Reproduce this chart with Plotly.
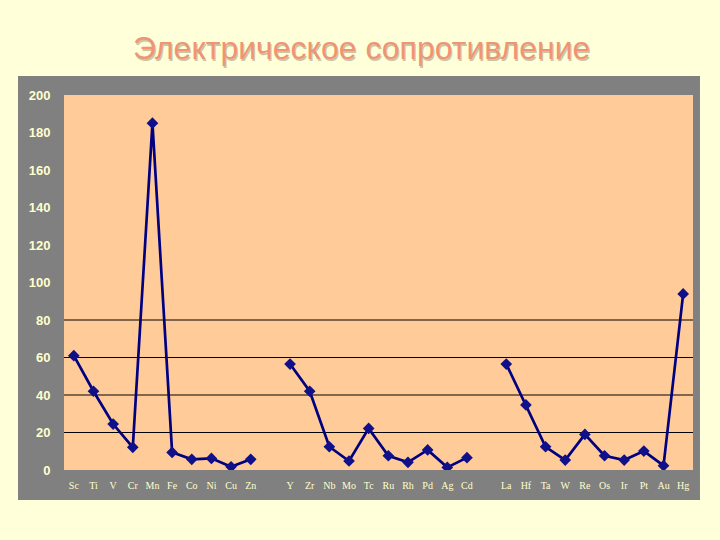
import plotly.graph_objects as go

elements = ["Sc", "Ti", "V", "Cr", "Mn", "Fe", "Co", "Ni", "Cu", "Zn", "",
            "Y", "Zr", "Nb", "Mo", "Tc", "Ru", "Rh", "Pd", "Ag", "Cd", "",
            "La", "Hf", "Ta", "W", "Re", "Os", "Ir", "Pt", "Au", "Hg"]
resistance = [61, 42, 24.5, 12.1, 185, 9.4, 5.7, 6.2, 1.7, 5.7, None,
              56.5, 42, 12.4, 4.8, 22.2, 7.6, 4.1, 10.7, 1.4, 6.6, None,
              56.5, 34.7, 12.4, 5.3, 19, 7.6, 5.3, 10.1, 2.3, 93.9]
grid_values = [20, 40, 60, 80]
y_ticks = [0, 20, 40, 60, 80, 100, 120, 140, 160, 180, 200]

x_idx = list(range(len(elements)))

fig = go.Figure()
fig.add_trace(go.Scatter(
    x=x_idx, y=resistance, mode="lines+markers",
    line=dict(color="#000080", width=2.7),
    marker=dict(symbol="diamond", size=9, color="#10108a"),
    connectgaps=False, hoverinfo="skip"))

shapes = [
    dict(type="rect", xref="paper", yref="paper", x0=-0.0731, x1=1.0111,
         y0=-0.08, y1=1.0507, fillcolor="#808080", line=dict(width=0), layer="below"),
    dict(type="rect", xref="paper", yref="paper", x0=0, x1=1, y0=0, y1=1,
         fillcolor="#FFCC99", line=dict(width=0), layer="below"),
]
for g in grid_values:
    shapes.append(dict(type="line", xref="paper", yref="y", x0=0, x1=1, y0=g, y1=g,
                       line=dict(color="#000000", width=1), layer="below"))

title = "Электрическое сопротивление"
tx = (361 - 64) / 629
ty = (470 - 48) / 375
annotations = [
    dict(text=title, xref="paper", yref="paper", x=tx + 1.5 / 629, y=ty - 1.5 / 375,
         xanchor="center", yanchor="middle", showarrow=False,
         font=dict(family="Liberation Sans, Arial", size=32, color="#C9C6A6")),
    dict(text=title, xref="paper", yref="paper", x=tx, y=ty,
         xanchor="center", yanchor="middle", showarrow=False,
         font=dict(family="Liberation Sans, Arial", size=32, color="#F09474")),
]

fig.update_layout(
    width=720, height=540,
    margin=dict(l=64, r=27, t=95, b=70),
    paper_bgcolor="#FFFFD9",
    plot_bgcolor="#FFCC99",
    showlegend=False,
    shapes=shapes,
    annotations=annotations,
    xaxis=dict(range=[-0.5, len(elements) - 0.5], tickmode="array",
               tickvals=x_idx, ticktext=elements, showgrid=False, zeroline=False,
               ticks="outside", ticklen=6, tickcolor="rgba(0,0,0,0)",
               tickfont=dict(family="Liberation Serif, Times New Roman", size=10, color="#FFFFCC"),
               fixedrange=True),
    yaxis=dict(range=[0, 200], tickmode="array", tickvals=y_ticks,
               ticktext=["<b>%d</b>" % v for v in y_ticks], showgrid=False, zeroline=False,
               ticks="outside", ticklen=10, tickcolor="rgba(0,0,0,0)",
               tickfont=dict(family="Liberation Sans, Arial", size=13, color="#FFFFCC"),
               fixedrange=True),
)

fig.write_html("out.html", config={"displayModeBar": False},
               post_script="document.body.style.margin='0';document.body.style.overflow='hidden';")
